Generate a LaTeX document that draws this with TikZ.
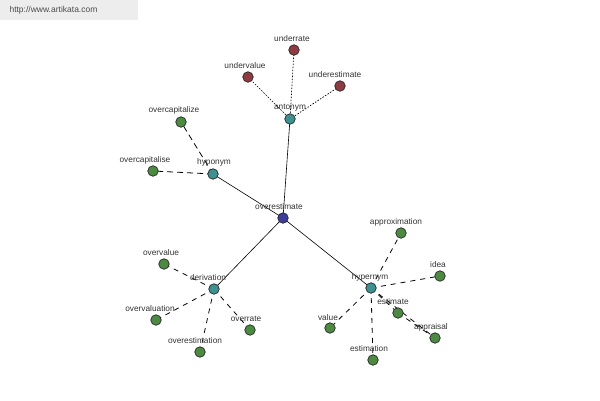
\documentclass[tikz,border=0pt]{standalone}
\usepackage{fontspec}
\setmainfont{Liberation Sans}
\definecolor{leafc}{HTML}{4C8A42}
\definecolor{antoc}{HTML}{8E3B42}
\definecolor{relc}{HTML}{3D918F}
\definecolor{rootc}{HTML}{3D3D9C}
\begin{document}
\begin{tikzpicture}[x=1pt,y=-1pt,
  dot/.style={circle,draw=black!85,line width=0.7pt,minimum size=10.5pt,inner sep=0pt},
  leaf/.style={dot,fill=leafc},
  anto/.style={dot,fill=antoc},
  rel/.style={dot,fill=relc},
  root/.style={dot,fill=rootc},
  lab/.style={font=\fontsize{8.3}{9}\selectfont,text=black!80,inner sep=0pt},
  solidedge/.style={line width=0.6pt,black},
  dotedge/.style={line width=0.7pt,black,dash pattern=on 1.5pt off 1.5pt},
  longdash/.style={line width=0.8pt,black,dash pattern=on 6pt off 4pt},
  dashedge/.style={line width=0.8pt,black,dash pattern=on 5pt off 5pt}]
\useasboundingbox (0,0) rectangle (600,400);
\fill[black!7] (0,0) rectangle (138,20);
\node[font=\fontsize{8.5}{9}\selectfont,text=black!70,anchor=west] (wm) at (6,10) {http://www.artikata.com};
% coordinates
\coordinate (cR) at (283,218);
\coordinate (cA) at (290,119);
\coordinate (cA1) at (294,50);
\coordinate (cA2) at (248,77);
\coordinate (cA3) at (340,86);
\coordinate (cH) at (213,174);
\coordinate (cH1) at (181,122);
\coordinate (cH2) at (153,171);
\coordinate (cD) at (214,289);
\coordinate (cD1) at (164,264);
\coordinate (cD2) at (156,320);
\coordinate (cD3) at (200,352);
\coordinate (cD4) at (250,330);
\coordinate (cP) at (371,288);
\coordinate (cP1) at (401,233);
\coordinate (cP2) at (440,276);
\coordinate (cP3) at (398,313);
\coordinate (cP4) at (435,338);
\coordinate (cP5) at (330,328);
\coordinate (cP6) at (373,360);
% edges
\draw[solidedge] (cR) -- (cA);
\draw[solidedge] (cR) -- (cH);
\draw[solidedge] (cR) -- (cD);
\draw[solidedge] (cR) -- (cP);
\foreach \n in {A1,A2,A3} \draw[dotedge] (cA) -- (c\n);
\foreach \n in {H1,H2} \draw[longdash] (cH) -- (c\n);
\foreach \n in {D1,D2,D3,D4} \draw[dashedge] (cD) -- (c\n);
\foreach \n in {P1,P2,P3,P4,P5,P6} \draw[dashedge] (cP) -- (c\n);
\draw[dashedge] (cP3) -- (cP4);
% labels
\node[lab] (lR) at (279,207) {overestimate};
\node[lab] (lA) at (290,108) {antonym};
\node[lab] (lA1) at (292,39) {underrate};
\node[lab] (lA2) at (245,66) {undervalue};
\node[lab] (lA3) at (335,75) {underestimate};
\node[lab] (lH) at (214,162) {hyponym};
\node[lab] (lH1) at (174,110) {overcapitalize};
\node[lab] (lH2) at (145,160) {overcapitalise};
\node[lab] (lD) at (208,278) {derivation};
\node[lab] (lD1) at (161,253) {overvalue};
\node[lab] (lD2) at (150,309) {overvaluation};
\node[lab] (lD3) at (195,341) {overestimation};
\node[lab] (lD4) at (246,319) {overrate};
\node[lab] (lP) at (370,277) {hypernym};
\node[lab] (lP1) at (396,222) {approximation};
\node[lab] (lP2) at (438,265) {idea};
\node[lab] (lP3) at (393,302) {estimate};
\node[lab] (lP4) at (431,327) {appraisal};
\node[lab] (lP5) at (328,318) {value};
\node[lab] (lP6) at (369,349) {estimation};
% dots
\node[root] (R) at (cR) {};
\node[rel] (A) at (cA) {};
\node[rel] (H) at (cH) {};
\node[rel] (D) at (cD) {};
\node[rel] (P) at (cP) {};
\foreach \n in {A1,A2,A3} \node[anto] (\n) at (c\n) {};
\foreach \n in {H1,H2,D1,D2,D3,D4,P1,P2,P3,P4,P5,P6} \node[leaf] (\n) at (c\n) {};
\end{tikzpicture}
\end{document}
